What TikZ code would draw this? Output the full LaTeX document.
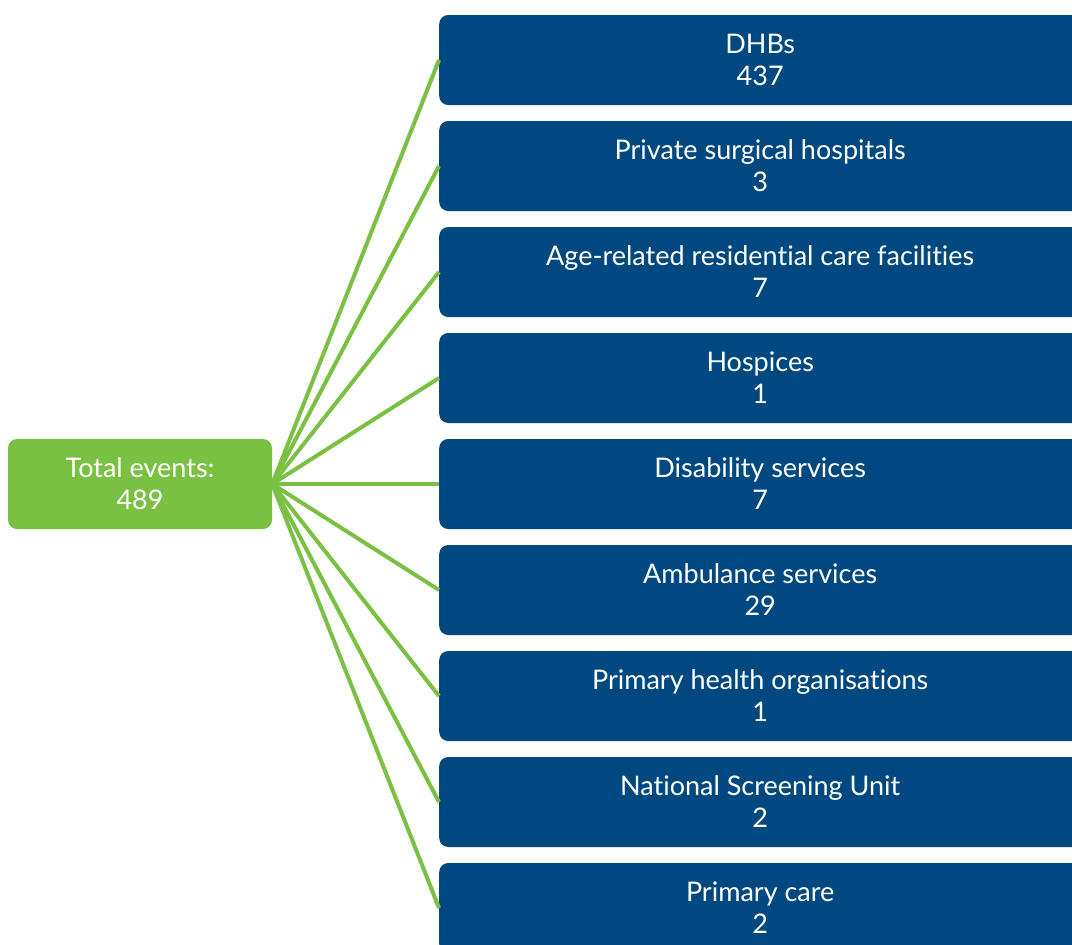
\documentclass[tikz,border=0pt]{standalone}
\usepackage{fontspec}
\setmainfont[Ligatures={NoCommon}]{Lato}
\definecolor{dhbblue}{RGB}{0,73,128}
\definecolor{evgreen}{RGB}{122,193,67}
\begin{document}
\begin{tikzpicture}[x=1pt,y=-1pt,
  leaf/.style={fill=dhbblue,rounded corners=9pt,minimum width=642pt,minimum height=90pt,inner sep=0pt,text=white,align=center,font=\fontsize{27}{32}\selectfont,anchor=west},
  root/.style={fill=evgreen,rounded corners=9pt,minimum width=264pt,minimum height=90pt,inner sep=0pt,text=white,align=center,font=\fontsize{27}{32}\selectfont},
  link/.style={draw=evgreen,line width=4pt}]
\useasboundingbox (0,0) rectangle (1072,945);
\clip (0,0) rectangle (1072,945);
\node[root] (root) at (140,484) {Total events:\\489};
\node[leaf] (b1) at (439,60) {DHBs\\437};
\node[leaf] (b2) at (439,166) {Private surgical hospitals\\3};
\node[leaf] (b3) at (439,272) {Age-related residential care facilities\\7};
\node[leaf] (b4) at (439,378) {Hospices\\1};
\node[leaf] (b5) at (439,484) {Disability services\\7};
\node[leaf] (b6) at (439,590) {Ambulance services\\29};
\node[leaf] (b7) at (439,696) {Primary health organisations\\1};
\node[leaf] (b8) at (439,802) {National Screening Unit\\2};
\node[leaf] (b9) at (439,908) {Primary care\\2};
\foreach \i in {1,...,9} {
  \draw[link] (root.east) -- (b\i.west);
}
\end{tikzpicture}
\end{document}
